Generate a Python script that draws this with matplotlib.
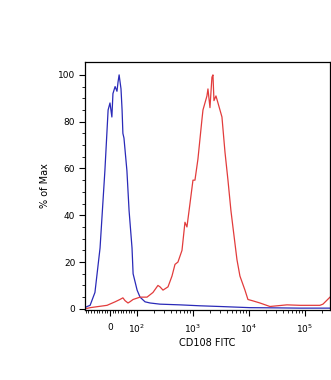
import matplotlib
matplotlib.use('Agg')
import matplotlib.pyplot as plt

# blue histogram (control)
blueX = [-93, -85, -74, -56, -37, -19, -7, 0, 7, 11, 19, 26, 30, 34, 41, 45, 48, 52,
         63, 71, 82, 86, 101, 114, 140, 172, 259, 589, 1340, 3050, 10500, 36000, 81000, 282000]
blueY = [0.5, 1, 1.5, 7, 26, 59, 85, 88, 82, 92, 95, 93, 97, 100, 94, 85, 75, 73,
         59, 42, 26, 15, 8, 5, 3, 2.5, 2, 1.7, 1.3, 1, 0.5, 0.4, 0.3, 0.3]

# red histogram (CD108 stained)
redX = [-93, -74, -11, 19, 37, 48, 56, 67, 74, 86, 114, 152, 194, 238, 259, 293, 360,
        424, 480, 542, 640, 723, 785, 889, 1005, 1091, 1233, 1455, 1517, 1786, 1862,
        2023, 2193, 2287, 2384, 2588, 2812, 3311, 3750, 4240, 4790, 5200, 6140, 6940,
        8530, 9640, 11860, 15810, 23830, 47970, 81850, 186000, 211000, 282000]
redY = [0, 0.5, 1.5, 3, 4, 4.7, 3.5, 2.5, 3, 4, 5, 5, 7, 10, 9.4, 8, 9.4,
        14, 19, 20, 25, 37, 35, 45, 55, 55, 64, 81, 85, 91, 94,
        86, 99, 100, 89, 91, 88, 82, 67, 55, 42, 35, 21, 14,
        8, 4, 3.4, 2.5, 1, 1.7, 1.5, 1.5, 2, 5]

majorTicks = [0, 100, 1000, 10000, 100000]
majorLabels = ['0', r'$10^2$', r'$10^3$', r'$10^4$', r'$10^5$']

minorTicks = []
for v in range(10, 100, 10):
    minorTicks.append(v)
    minorTicks.append(-v)
for dec in [100, 1000, 10000, 100000]:
    for m in range(2, 10):
        minorTicks.append(m * dec)

figure = plt.figure(figsize=(3.31, 3.80), dpi=100)
axes = figure.add_axes([0.2568, 0.1842, 0.7402, 0.6526])

axes.plot(blueX, blueY, color='#2a2ab8', linewidth=0.9)
axes.plot(redX, redY, color='#e23c3c', linewidth=0.9)

axes.set_xscale('symlog', linthresh=100, linscale=0.432)
axes.set_xlim(-93, 282000)
axes.set_ylim(-0.5, 105.5)

axes.set_xticks(majorTicks)
axes.set_xticklabels(majorLabels)
axes.set_xticks([t for t in minorTicks if -93 < t < 282000], minor=True)
axes.set_yticks([0, 20, 40, 60, 80, 100])
axes.set_yticks(range(5, 105, 5), minor=True)

axes.tick_params(axis='both', which='major', labelsize=6.5, length=4, width=0.8, direction='out', pad=3)
axes.tick_params(axis='x', which='major', pad=5)
axes.tick_params(axis='both', which='minor', length=2, width=0.6, direction='out')

axes.set_xlabel('CD108 FITC', fontsize=7, labelpad=2)
axes.set_ylabel('% of Max', fontsize=7, labelpad=6)

for s in axes.spines.values():
    s.set_linewidth(0.9)

figure.savefig('out.png', dpi=100)
